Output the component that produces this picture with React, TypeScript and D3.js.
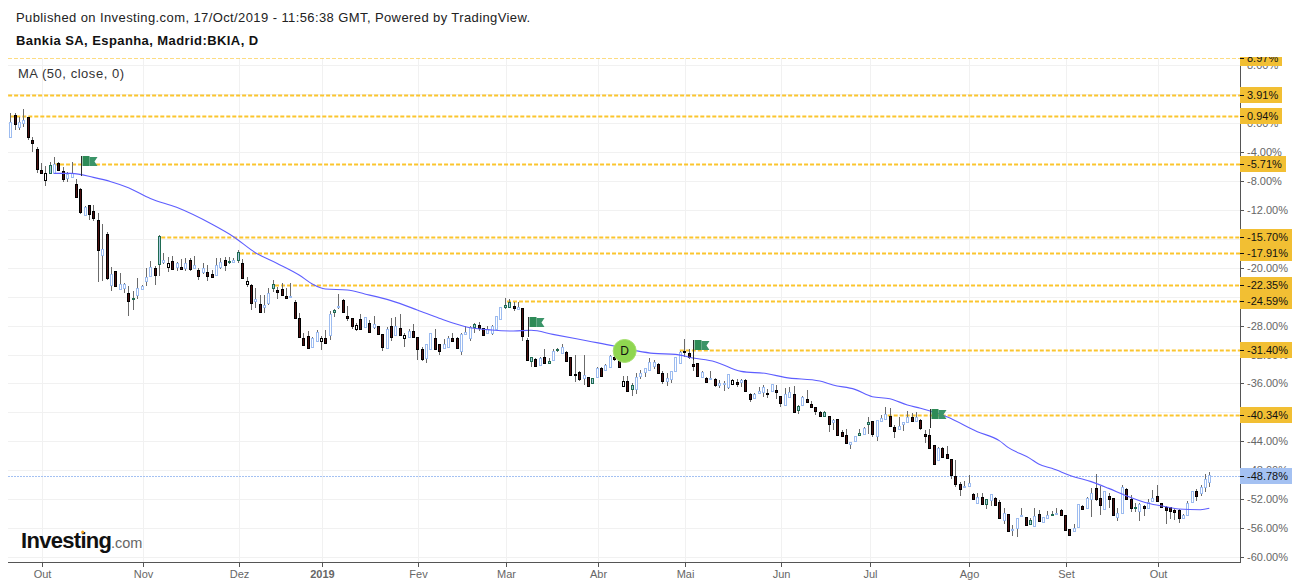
import React from "react";
import * as d3 from "d3";

const WIDTH = 1299;
const HEIGHT = 587;

const titleText = "Published on Investing.com, 17/Oct/2019 - 11:56:38 GMT, Powered by TradingView.";
const symbolText = "Bankia SA, Espanha, Madrid:BKIA, D";
const studyText = "MA (50, close, 0)";

const highs = [
1.35,1.35,0.79,1.90,0.79,-1.97,-3.36,-5.57,-5.94,-5.38,-4.65,-5.38,-6.03,-6.77,-5.38,-7.69,-8.98,-11.47,-11.38,-11.38,
-12.48,-13.96,-15.07,-19.95,-20.51,-20.78,-22.07,-22.53,-23.18,-21.43,-22.35,-20.04,-19.12,-19.77,-15.48,-18.02,-18.48,-18.38,-19.21,-18.85,
-18.71,-18.66,-18.38,-20.04,-19.40,-19.68,-20.32,-18.66,-18.66,-18.48,-18.48,-18.71,-17.55,-18.75,-21.34,-22.26,-22.81,-23.82,-23.82,-22.81,
-21.70,-22.63,-22.07,-22.81,-22.12,-24.47,-26.31,
-28.98,-28.70,-29.53,-28.61,-29.44,-28.61,-25.93,-25.75,-23.63,-24.37,-25.29,-26.99,-27.69,-26.40,-26.86,-27.23,-26.67,-28.05,-29.21,-28.24,
-26.99,-26.76,-26.40,-28.98,-28.52,-27.78,-29.53,-31.01,-30.54,-29.07,-28.47,-30.54,-29.90,-29.44,-29.07,-29.62,-29.07,-28.05,-28.05,-27.59,
-27.46,-28.38,-28.05,-27.92,-26.67,-25.38,-24.23,-24.27,-24.69,-24.78,-25.61,-29.76,-32.30,-32.53,-32.39,-31.28,-32.53,-31.28,-31.14,-30.54,
-31.51,-32.39,-32.07,-34.32,-32.07,-35.06,-35.20,-33.77,-33.77,-33.31,-32.07,-31.84,-32.76,-34.97,-34.97,
-35.99,-34.51,-34.14,-33.91,-32.53,-32.76,-33.22,-34.23,-34.60,-34.23,-32.39,-31.47,-29.90,-31.28,-32.76,-33.13,-34.23,-35.16,-34.23,-35.29,
-35.53,-35.62,-34.70,-35.43,-35.43,-35.39,-35.43,-37.37,-37.28,-36.45,-36.22,-36.77,-36.08,-36.26,-37.74,-36.68,-36.45,-36.35,-39.03,-37.74,
-36.91,-38.38,-39.21,-39.86,-39.86,-40.50,-40.96,-40.87,-42.44,-42.35,-44.15,-43.27,-42.26,-42.07,-40.69,-41.20,-41.06,-40.37,-39.21,-39.40,
-41.75,-40.69,-41.33,-39.81,-40.14,-39.90,-40.96,
-42.44,-42.35,-44.51,-44.74,-44.74,-44.65,-46.40,-46.59,-49.63,-49.49,-48.71,-51.20,-51.20,-51.20,-51.94,-51.24,-51.75,-52.12,-53.27,-54.06,
-55.58,-54.56,-53.27,-54.42,-54.66,-53.27,-53.50,-54.42,-53.60,-53.60,-53.27,-53.41,-54.19,-56.18,-55.44,-52.67,-52.86,-51.66,-50.41,-48.52,
-50.18,-50.83,-51.20,-51.84,-53.27,-50.05,-50.51,-51.47,-52.58,-52.58,-52.86,-51.98,-50.74,-50.05,-52.49,-52.95,-53.04,-53.27,-53.32,-54.06,
-52.30,-50.83,-50.55,-50.00,-48.52,-48.25,
];

const bodyTops = [
0.10,1.07,0.10,0.38,0.79,-2.34,-3.63,-6.54,-6.95,-5.84,-5.66,-5.57,-6.68,-7.04,-6.95,-8.47,-9.17,-11.65,-11.38,-12.21,
-13.45,-17.46,-15.34,-20.87,-20.51,-22.30,-22.26,-23.55,-24.24,-22.86,-22.58,-21.34,-19.95,-20.09,-15.62,-18.99,-19.40,-19.12,-19.35,-19.95,
-19.40,-18.94,-19.68,-20.37,-20.04,-20.64,-20.92,-19.68,-19.26,-18.99,-19.03,-18.99,-17.88,-19.40,-21.89,-22.44,-24.38,-25.07,-25.16,-23.55,
-22.30,-23.09,-23.00,-23.92,-23.96,-24.79,-27.01,
-29.71,-29.44,-29.71,-28.88,-29.76,-29.76,-26.44,-25.84,-25.29,-24.46,-26.67,-26.99,-27.92,-27.13,-26.86,-27.69,-27.82,-28.05,-29.21,-28.47,
-28.05,-28.05,-28.38,-29.35,-28.79,-28.79,-29.62,-31.28,-30.59,-29.07,-29.76,-30.59,-30.54,-29.76,-29.76,-29.76,-29.16,-28.93,-28.15,-27.82,
-27.96,-28.38,-28.42,-28.05,-26.72,-25.43,-25.10,-24.74,-25.29,-25.47,-25.61,-29.99,-32.39,-32.66,-32.53,-32.39,-32.94,-31.51,-31.28,-31.01,
-31.70,-32.39,-34.69,-34.46,-34.88,-35.15,-35.29,-33.91,-33.91,-33.49,-32.20,-32.30,-32.85,-35.71,-35.62,
-36.26,-35.16,-34.60,-33.91,-33.04,-33.04,-33.31,-34.60,-35.29,-34.33,-32.39,-31.61,-31.56,-31.79,-33.31,-33.22,-34.42,-35.25,-35.25,-35.39,
-35.94,-35.94,-34.74,-35.53,-35.80,-35.53,-35.57,-37.46,-37.46,-37.05,-36.45,-37.32,-36.12,-36.91,-37.74,-37.46,-37.23,-37.46,-39.17,-37.88,
-38.20,-38.84,-39.31,-39.95,-40.00,-40.55,-41.06,-40.92,-42.72,-43.18,-44.15,-43.32,-42.85,-42.21,-41.33,-41.20,-41.10,-40.83,-40.27,-40.50,
-42.07,-41.93,-41.33,-40.69,-40.69,-40.69,-41.06,
-43.01,-43.13,-44.56,-44.93,-44.93,-45.76,-46.50,-48.80,-49.91,-50.23,-49.82,-51.29,-51.75,-51.75,-52.03,-51.34,-51.89,-52.44,-53.96,-54.10,
-56.18,-54.66,-54.24,-54.52,-54.89,-54.38,-54.10,-54.52,-54.24,-54.10,-53.96,-53.55,-54.24,-56.18,-56.04,-52.72,-52.95,-51.89,-51.20,-50.51,
-51.84,-50.92,-51.57,-51.89,-53.96,-50.37,-50.64,-51.94,-53.13,-52.72,-52.95,-52.35,-51.84,-51.61,-52.58,-53.13,-53.13,-53.50,-53.46,-54.15,
-52.58,-50.92,-50.92,-50.37,-49.26,-48.71,
];

const bodyBottoms = [
-1.88,-0.08,-0.50,0.06,-1.88,-2.71,-6.30,-6.86,-7.87,-6.86,-6.95,-6.44,-7.69,-7.55,-7.46,-10.18,-12.25,-12.71,-12.53,-13.08,
-17.51,-18.20,-21.38,-22.35,-22.49,-22.90,-22.76,-24.56,-24.38,-23.73,-22.90,-21.80,-21.20,-20.97,-19.45,-19.17,-19.86,-20.14,-19.90,-20.14,
-20.04,-20.14,-20.09,-21.10,-20.55,-21.10,-21.24,-20.97,-19.86,-19.58,-19.26,-19.17,-18.99,-21.38,-22.30,-24.84,-24.65,-26.08,-25.39,-24.84,
-22.76,-23.32,-23.73,-24.15,-24.06,-26.91,-29.53,
-30.64,-31.10,-31.01,-30.18,-30.08,-30.36,-29.25,-26.07,-25.38,-26.07,-26.90,-28.01,-28.52,-28.42,-28.15,-28.84,-28.19,-29.12,-30.91,-31.14,
-29.58,-29.25,-29.25,-29.76,-29.58,-29.53,-31.19,-32.57,-32.48,-31.28,-31.19,-31.51,-31.05,-30.91,-30.13,-31.14,-31.47,-29.12,-29.71,-28.15,
-28.29,-29.35,-28.98,-28.98,-28.42,-27.13,-25.47,-25.38,-25.52,-25.66,-29.44,-32.80,-32.85,-33.54,-33.45,-33.13,-33.13,-32.71,-31.42,-31.74,
-32.85,-34.79,-34.79,-35.43,-35.20,-36.31,-35.89,-35.15,-34.92,-34.14,-33.73,-32.66,-33.68,-36.31,-37.00,
-36.77,-36.82,-34.93,-34.37,-34.14,-33.54,-34.56,-35.62,-35.62,-35.39,-34.23,-33.13,-31.61,-32.30,-33.54,-34.93,-35.06,-35.76,-35.39,-36.26,
-36.17,-36.12,-36.54,-36.03,-36.12,-35.76,-37.00,-38.11,-38.01,-37.28,-37.14,-37.51,-37.00,-37.14,-38.71,-38.94,-37.88,-39.90,-39.67,-38.94,
-38.52,-39.21,-39.77,-40.46,-40.46,-41.56,-41.29,-43.09,-43.22,-44.19,-44.33,-44.01,-43.09,-42.99,-41.56,-42.95,-43.32,-41.24,-40.96,-41.89,
-42.62,-42.35,-41.61,-41.38,-41.15,-41.24,-42.21,
-43.22,-44.93,-47.10,-46.54,-46.13,-46.31,-48.66,-49.86,-50.55,-50.32,-50.18,-51.98,-52.49,-52.63,-52.63,-52.07,-52.77,-54.56,-54.84,-56.36,
-56.27,-55.99,-54.33,-55.53,-55.39,-55.72,-54.98,-55.21,-54.56,-54.15,-54.06,-54.15,-56.22,-56.91,-56.45,-55.81,-53.32,-53.27,-51.94,-51.94,
-52.77,-53.32,-51.94,-54.15,-54.42,-53.87,-51.94,-53.18,-53.18,-53.69,-53.18,-53.18,-52.21,-52.21,-53.13,-53.46,-53.60,-53.73,-54.61,-54.56,
-54.24,-52.44,-51.52,-51.10,-50.32,-49.58,
];

const lows = [
-1.88,-0.96,-0.96,-0.59,-2.34,-3.95,-6.86,-7.04,-8.70,-7.04,-6.95,-6.58,-8.15,-8.15,-7.55,-10.36,-12.57,-12.85,-13.41,-13.50,
-21.98,-21.89,-21.70,-23.18,-22.53,-22.90,-23.46,-26.68,-25.85,-24.29,-22.90,-22.53,-21.24,-22.40,-21.15,-19.49,-20.60,-20.23,-20.51,-20.32,
-20.41,-20.41,-20.09,-21.70,-20.87,-21.80,-21.47,-20.97,-20.23,-20.41,-19.49,-19.31,-19.40,-21.52,-22.72,-25.85,-25.62,-26.13,-26.31,-25.16,
-23.32,-24.29,-23.82,-24.19,-24.06,-26.91,-29.53,
-30.73,-31.28,-31.01,-30.18,-31.37,-30.36,-29.99,-26.86,-25.75,-26.30,-27.32,-28.52,-28.70,-28.52,-28.24,-28.88,-28.42,-29.16,-31.47,-31.19,
-30.08,-29.25,-29.35,-30.91,-29.67,-29.62,-32.76,-32.85,-33.13,-31.37,-31.28,-32.07,-31.19,-31.01,-30.27,-31.28,-32.02,-29.12,-30.08,-28.98,
-28.79,-29.44,-28.98,-29.35,-28.52,-27.23,-25.66,-25.47,-26.03,-25.84,-30.08,-32.85,-33.68,-33.68,-33.59,-33.22,-33.31,-32.76,-31.60,-31.84,
-32.94,-34.88,-35.75,-35.62,-36.21,-36.54,-36.08,-35.29,-35.06,-34.23,-33.91,-32.85,-33.77,-36.35,-37.14,
-37.69,-37.46,-35.34,-35.06,-34.14,-34.05,-34.70,-36.08,-36.35,-35.89,-34.37,-33.22,-32.30,-32.57,-34.23,-34.97,-35.16,-35.89,-35.53,-36.45,
-36.68,-37.05,-36.72,-36.22,-36.54,-36.45,-37.00,-38.57,-38.20,-37.46,-37.92,-38.06,-37.00,-38.15,-39.31,-39.03,-37.97,-39.95,-40.23,-39.03,
-38.57,-39.31,-40.41,-40.60,-40.60,-42.76,-42.44,-43.18,-43.45,-44.28,-45.11,-44.10,-43.18,-43.18,-42.99,-43.45,-43.92,-41.24,-40.96,-41.98,
-43.59,-42.44,-42.53,-41.43,-41.24,-41.33,-42.44,
-44.19,-45.02,-47.10,-46.68,-46.22,-46.40,-49.17,-50.37,-51.57,-50.32,-50.37,-52.12,-52.58,-52.67,-53.32,-52.95,-52.86,-54.66,-55.44,-56.45,
-57.10,-57.19,-54.42,-55.62,-55.44,-55.81,-55.07,-55.25,-54.70,-54.33,-54.06,-54.19,-56.27,-56.96,-56.50,-55.81,-53.41,-53.27,-54.42,-52.21,
-54.19,-53.32,-53.23,-54.24,-54.98,-53.96,-52.03,-53.78,-53.73,-54.98,-54.33,-53.27,-52.30,-52.30,-53.23,-55.44,-54.79,-54.89,-55.25,-54.70,
-54.33,-52.49,-52.30,-51.57,-50.97,-50.28,
];

// u: rising hollow, d: falling filled, k: hollow black, g: hollow green
const candleKinds = (
"u d u u d d d d k g u d d u u d d u d d " +
"d u d u d u u d g u u u u d g u k d u d " +
"u d u d u d d u u d g u g d k d u d u u " +
"g d d d u d d " +
"d d u u k d u g u d d d k d u d u d d u " +
"d u d k u d d d u u d d u u d d u u u g " +
"d d u u u u g g d u d d g d u d g u g u " +
"d d d d u d g u d u u d d k d " +
"g u u u u u d d u u u u d d d d u d u d " +
"u u u k d u d d u u u d u d d u u d g u " +
"d d d d g d u d d d u u g u g d u u u d " +
"d u u u d u d " +
"d d d u d d d d d u u d u d g u d d u d " +
"u u u d g u d u u g u d d d u u d u u d " +
"d u d d u u d d g u d u u d d d d d d u " +
"u u d u u u"
).split(" ");

const maIndex = [10,14,19,23,27,32,38,46,51,56,61,66,69,72,77,81,87,93,98,104,110,115,119,124,132,138,143,147,152,156,161,167,173,177,185,188,193,197,201,205,208,214,221,226,228,233,235,238,243,247,251,255,260,264,267,272,274];
const maValues = [-6.95,-6.95,-7.51,-8.10,-8.93,-10.41,-11.65,-13.96,-15.71,-17.92,-19.40,-21.0,-22.25,-22.94,-23.08,-23.63,-24.55,-25.84,-26.99,-28.15,-28.61,-28.75,-28.65,-29.21,-30.13,-30.82,-31.47,-31.84,-31.98,-32.48,-32.99,-34.33,-34.65,-35.16,-35.66,-36.22,-36.82,-37.83,-38.11,-38.98,-39.44,-40.60,-42.67,-43.91,-44.84,-46.36,-47.14,-47.74,-48.89,-49.58,-50.51,-51.52,-52.58,-53.04,-53.36,-53.46,-53.27];

const monthLabels = ["Out","Nov","Dez","2019","Fev","Mar","Abr","Mai","Jun","Jul","Ago","Set","Out"];
const monthIndex = [7.4,30.4,52.4,71.4,93.3,113.4,134.4,154.4,176.3,196.5,219.1,241.4,262.3];

const axisTicks = [8,4,0,-4,-8,-12,-16,-20,-24,-28,-32,-36,-40,-44,-48,-52,-56,-60];

const levelValues = [8.97,3.91,0.94,-5.71,-15.70,-17.91,-22.35,-24.59,-31.40,-40.34];
const levelLabels = ["8.97%","3.91%","0.94%","-5.71%","-15.70%","-17.91%","-22.35%","-24.59%","-31.40%","-40.34%"];
const levelStart = [-0.5,-0.5,0,10,34.5,52.5,60.5,113.5,153,200.5];

const lastValue = -48.78;
const lastLabel = "-48.78%";

const flagIndex = [16.2,118.5,156.2,210.3];
const flagTop = [-4.55,-26.81,-29.99,-39.53];
const flagBottom = [-7.31,-29.58,-32.76,-42.16];

const dividendIndex = 140.4;
const dividendValue = -31.51;

const GRID = "#f1f1f1";
const AXIS = "#555555";
const TEXT = "#666666";
const ORANGE = "#f2bf33";
const BLUE_TAG = "#a4c1f2";
const UP = "#9dbcf0";
const FONT = "'Liberation Sans', Arial, sans-serif";

export default function App() {
  const x = d3.scaleLinear().domain([0, 274]).range([10.3, 1209.3]);
  const y = d3.scaleLinear().domain([0, -60]).range([123.1, 557]);
  const snap = (v: number) => Math.round(v) + 0.5;
  const floorSnap = (v: number) => Math.floor(v) + 0.5;
  const left = 8;
  const right = 1240;
  const bottom = 563;

  const maLine = d3
    .line<number>()
    .x((_, i) => x(maIndex[i]))
    .y((d) => y(d))
    .curve(d3.curveMonotoneX)(maValues) as string;

  const stroke = (k: string) => (k === "u" ? UP : k === "g" ? "#1f6b52" : "#000000");
  const fill = (k: string) => (k === "u" ? "#ffffff" : k === "g" ? "#a9cbe0" : k === "k" ? "#ffffff" : "#4d0f0f");

  return (
    <svg
      width={WIDTH}
      height={HEIGHT}
      style={{ position: "absolute", left: 0, top: 0, background: "#fff", fontFamily: FONT }}
    >
      <defs>
        <clipPath id="paneClip">
          <rect x={0} y={57} width={WIDTH} height={HEIGHT - 57} />
        </clipPath>
      </defs>

      {/* grid */}
      {axisTicks.map((t) => (
        <line key={t} x1={left} x2={right} y1={snap(y(t))} y2={snap(y(t))} stroke={GRID} />
      ))}
      {monthIndex.map((m, i) => (
        <line key={i} x1={floorSnap(x(m))} x2={floorSnap(x(m))} y1={58} y2={bottom} stroke={GRID} />
      ))}

      {/* level lines */}
      {levelValues.map((v, i) => (
        <line
          key={i}
          x1={i === 0 ? left : x(levelStart[i])}
          x2={right}
          y1={snap(y(v))}
          y2={snap(y(v))}
          stroke="#fbc52e"
          strokeOpacity={i === 0 ? 0.6 : 1}
          strokeWidth={i === 0 ? 1 : 2}
          strokeDasharray="4 2"
        />
      ))}

      {/* last price line */}
      <line
        x1={left}
        x2={right}
        y1={snap(y(lastValue))}
        y2={snap(y(lastValue))}
        stroke={BLUE_TAG}
        strokeDasharray="2 1"
      />

      {/* candles */}
      {highs.map((h, i) => {
        const k = candleKinds[i];
        const cx = snap(x(i));
        const top = snap(y(bodyTops[i]));
        const bot = Math.max(snap(y(bodyBottoms[i])), top + 1);
        return (
          <g key={i}>
            <line x1={cx} x2={cx} y1={Math.round(y(h))} y2={Math.round(y(lows[i]))} stroke="#6b6b6b" />
            <rect x={cx - 1} y={top} width={2} height={bot - top} fill={fill(k)} stroke={stroke(k)} />
          </g>
        );
      })}

      {/* moving average */}
      <path d={maLine} fill="none" stroke="#5e5eff" strokeWidth={1.1} />

      {/* flags */}
      {flagIndex.map((f, i) => {
        const px = floorSnap(x(f));
        const t = Math.round(y(flagTop[i]));
        return (
          <g key={i}>
            <line x1={px} x2={px} y1={t} y2={Math.round(y(flagBottom[i]))} stroke="#2b2b2b" />
            <path d={`M${px + 1} ${t}h7v10h-7z`} fill="#2e8b57" />
            <path d={`M${px + 8} ${t + 1}h8l-3 4.5l3 4.5h-8z`} fill="#3b9468" />
          </g>
        );
      })}

      {/* dividend marker */}
      <circle cx={x(dividendIndex)} cy={y(dividendValue)} r={11.5} fill="#8fd650" stroke="#a6e070" />
      <text x={x(dividendIndex)} y={y(dividendValue) + 4.5} textAnchor="middle" fontSize={12} fill="#111">
        D
      </text>

      {/* axes */}
      <line x1={right + 0.5} x2={right + 0.5} y1={58} y2={bottom} stroke={AXIS} />
      <line x1={left} x2={right + 1} y1={bottom - 0.5} y2={bottom - 0.5} stroke={AXIS} />
      {axisTicks.map((t) => (
        <g key={t}>
          <line x1={right} x2={right + 4} y1={snap(y(t))} y2={snap(y(t))} stroke={AXIS} />
          <text x={1247} y={y(t) + 4} fontSize={11} fill={TEXT}>
            {t === 0 ? "0.00%" : `${t.toFixed(2)}%`}
          </text>
        </g>
      ))}
      {monthIndex.map((m, i) => (
        <g key={i}>
          <line x1={floorSnap(x(m))} x2={floorSnap(x(m))} y1={bottom} y2={bottom + 4} stroke={AXIS} />
          <text
            x={floorSnap(x(m))}
            y={578}
            textAnchor="middle"
            fontSize={11}
            fontWeight={monthLabels[i] === "2019" ? 700 : 400}
            fill={TEXT}
          >
            {monthLabels[i]}
          </text>
        </g>
      ))}

      {/* level tags */}
      <g clipPath="url(#paneClip)">
        {levelValues.map((v, i) => {
          const cy = y(v);
          const w = levelLabels[i].length === 5 ? 42 : levelLabels[i].length === 6 ? 46 : 52;
          return (
            <g key={i}>
              <rect x={right} y={Math.round(cy) - 8} width={w} height={16} fill={ORANGE} />
              <line x1={right} x2={right + 4} y1={snap(cy)} y2={snap(cy)} stroke="#111" />
              <text x={1247} y={cy + 4} fontSize={11} fill="#111">
                {levelLabels[i]}
              </text>
            </g>
          );
        })}
      </g>
      <rect x={right} y={Math.round(y(lastValue)) - 8} width={52} height={16} fill={BLUE_TAG} />
      <line x1={right} x2={right + 4} y1={snap(y(lastValue))} y2={snap(y(lastValue))} stroke="#111" />
      <text x={1247} y={y(lastValue) + 4} fontSize={11} fill="#111">
        {lastLabel}
      </text>

      {/* texts */}
      <text x={16} y={22} fontSize={13} fill="#222" letterSpacing={0.4}>
        {titleText}
      </text>
      <text x={16} y={45} fontSize={13} fontWeight={700} fill="#111" letterSpacing={0.42}>
        {symbolText}
      </text>
      <text x={18} y={78} fontSize={13} fill="#333" letterSpacing={0.53}>
        {studyText}
      </text>

      {/* logo */}
      <text x={21} y={548} fontSize={22} fontWeight={700} fill="#111" letterSpacing={-0.7}>
        Investing
      </text>
      <text x={111} y={548} fontSize={14.5} fill="#666">
        .com
      </text>
      <circle cx={82.7} cy={532} r={1.5} fill="#f2a21b" />
    </svg>
  );
}
